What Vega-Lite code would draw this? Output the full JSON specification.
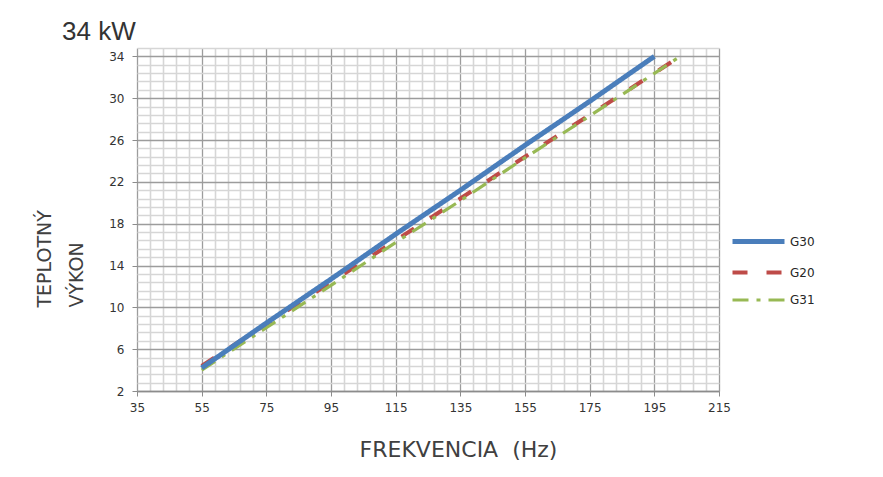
{
  "$schema": "https://vega.github.io/schema/vega-lite/v6.json",
  "width": 582,
  "height": 343,
  "autosize": {"type": "none"},
  "padding": {"left": 137, "top": 48, "right": 164, "bottom": 86},
  "background": "white",
  "config": {
    "view": {"stroke": null},
    "font": "DejaVu Sans"
  },
  "title": {
    "text": "34 kW",
    "anchor": "start",
    "frame": "group",
    "dx": -75,
    "dy": 28,
    "offset": 8,
    "baseline": "alphabetic",
    "font": "Liberation Sans",
    "fontSize": 26,
    "fontWeight": "normal",
    "color": "#333333"
  },
  "data": {
    "values": [
      {"plyn": "G20", "frekvencia": 55, "vykon": 4.4},
      {"plyn": "G20", "frekvencia": 75, "vykon": 8.4},
      {"plyn": "G20", "frekvencia": 95, "vykon": 12.4},
      {"plyn": "G20", "frekvencia": 115, "vykon": 16.4},
      {"plyn": "G20", "frekvencia": 135, "vykon": 20.4},
      {"plyn": "G20", "frekvencia": 155, "vykon": 24.4},
      {"plyn": "G20", "frekvencia": 175, "vykon": 28.4},
      {"plyn": "G20", "frekvencia": 203, "vykon": 34.0},
      {"plyn": "G31", "frekvencia": 55, "vykon": 4.0},
      {"plyn": "G31", "frekvencia": 75, "vykon": 8.05},
      {"plyn": "G31", "frekvencia": 95, "vykon": 12.1},
      {"plyn": "G31", "frekvencia": 115, "vykon": 16.2},
      {"plyn": "G31", "frekvencia": 135, "vykon": 20.2},
      {"plyn": "G31", "frekvencia": 155, "vykon": 24.3},
      {"plyn": "G31", "frekvencia": 175, "vykon": 28.3},
      {"plyn": "G31", "frekvencia": 203, "vykon": 34.0},
      {"plyn": "G30", "frekvencia": 55, "vykon": 4.2},
      {"plyn": "G30", "frekvencia": 75, "vykon": 8.5},
      {"plyn": "G30", "frekvencia": 95, "vykon": 12.7},
      {"plyn": "G30", "frekvencia": 115, "vykon": 17.0},
      {"plyn": "G30", "frekvencia": 135, "vykon": 21.2},
      {"plyn": "G30", "frekvencia": 155, "vykon": 25.5},
      {"plyn": "G30", "frekvencia": 175, "vykon": 29.7},
      {"plyn": "G30", "frekvencia": 195, "vykon": 34.0}
    ]
  },
  "layer": [
    {
      "mark": {"type": "point", "opacity": 0},
      "encoding": {
        "x": {
          "field": "frekvencia",
          "type": "quantitative",
          "scale": {"domain": [35, 215], "nice": false, "zero": false},
          "axis": {
            "orient": "bottom",
            "title": null,
            "labels": false,
            "ticks": false,
            "domain": false,
            "grid": true,
            "gridColor": "#d6d6d6",
            "gridWidth": 1.6,
            "values": [39, 43, 47, 51, 59, 63, 67, 71, 79, 83, 87, 91, 99, 103, 107, 111, 119, 123, 127, 131, 139, 143, 147, 151, 159, 163, 167, 171, 179, 183, 187, 191, 199, 203, 207, 211]
          }
        },
        "y": {
          "field": "vykon",
          "type": "quantitative",
          "scale": {"domain": [2, 34.8], "nice": false, "zero": false},
          "axis": {
            "orient": "left",
            "title": null,
            "labels": false,
            "ticks": false,
            "domain": false,
            "grid": true,
            "gridColor": "#d6d6d6",
            "gridWidth": 1.6,
            "values": [2.8, 3.6, 4.4, 5.2, 6.8, 7.6, 8.4, 9.2, 10.8, 11.6, 12.4, 13.2, 14.8, 15.6, 16.4, 17.2, 18.8, 19.6, 20.4, 21.2, 22.8, 23.6, 24.4, 25.2, 26.8, 27.6, 28.4, 29.2, 30.8, 31.6, 32.4, 33.2, 34.8]
          }
        }
      }
    },
    {
      "mark": {"type": "line", "strokeCap": "butt"},
      "encoding": {
        "x": {
          "field": "frekvencia",
          "type": "quantitative",
          "scale": {"domain": [35, 215], "nice": false, "zero": false},
          "axis": {
            "orient": "bottom",
            "title": "FREKVENCIA\u00a0 (Hz)",
            "titleFont": "DejaVu Sans",
            "titleFontSize": 22,
            "titleFontWeight": "normal",
            "titleColor": "#404040",
            "titleX": 321,
            "titleY": 65,
            "titleAlign": "center",
            "titleBaseline": "alphabetic",
            "values": [35, 55, 75, 95, 115, 135, 155, 175, 195, 215],
            "labelFontSize": 12,
            "labelColor": "#333333",
            "labelPadding": 6,
            "labelFlush": false,
            "labelOverlap": false,
            "tickSize": 5,
            "tickColor": "#8c8c8c",
            "domainColor": "#8c8c8c",
            "domainWidth": 1.3,
            "grid": true,
            "gridColor": "#9c9c9c",
            "gridWidth": 1.3
          }
        },
        "y": {
          "field": "vykon",
          "type": "quantitative",
          "scale": {"domain": [2, 34.8], "nice": false, "zero": false},
          "axis": {
            "orient": "left",
            "title": ["TEPLOTNÝ", "VÝKON"],
            "titleFont": "DejaVu Sans",
            "titleFontSize": 19,
            "titleFontWeight": "normal",
            "titleColor": "#404040",
            "titleAngle": -90,
            "titleAlign": "left",
            "titleBaseline": "alphabetic",
            "titleLineHeight": 32,
            "titleX": -87,
            "titleY": 259,
            "values": [2, 6, 10, 14, 18, 22, 26, 30, 34],
            "labelFontSize": 12,
            "labelColor": "#333333",
            "labelPadding": 8,
            "labelFlush": false,
            "labelOverlap": false,
            "tickSize": 5,
            "tickColor": "#8c8c8c",
            "domain": false,
            "grid": true,
            "gridColor": "#9c9c9c",
            "gridWidth": 1.3
          }
        },
        "color": {
          "field": "plyn",
          "type": "nominal",
          "scale": {"domain": ["G30", "G20", "G31"], "range": ["#4a7ebb", "#be4b48", "#98b954"]},
          "legend": {
            "title": null,
            "orient": "none",
            "legendX": 614,
            "legendY": 186,
            "padding": 0,
            "symbolType": "M-5.2,0H5.2",
            "symbolSize": 100,
            "labelOffset": 24,
            "rowPadding": 12,
            "labelFont": "DejaVu Sans",
            "labelFontSize": 12,
            "labelColor": "#262626"
          }
        },
        "strokeDash": {
          "field": "plyn",
          "type": "nominal",
          "scale": {"domain": ["G30", "G20", "G31"], "range": [[1, 0], [15, 19], [16, 8, 4, 8]]},
          "legend": {"title": null}
        },
        "strokeWidth": {
          "field": "plyn",
          "type": "nominal",
          "scale": {"domain": ["G30", "G20", "G31"], "range": [5, 3.2, 3.2]},
          "legend": {"title": null}
        }
      }
    }
  ],
  "resolve": {"axis": {"x": "independent", "y": "independent"}}
}
